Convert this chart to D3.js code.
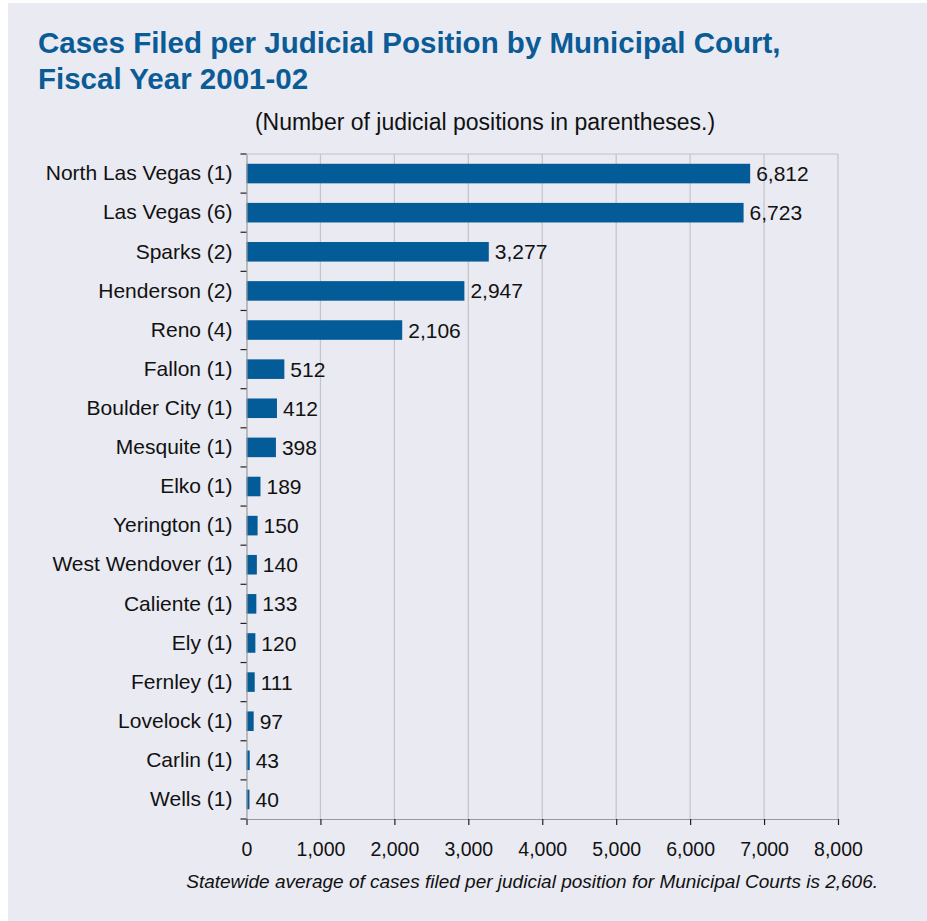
<!DOCTYPE html>
<html>

<head>
    <meta charset="utf-8">
    <script src="https://d3js.org/d3.v7.min.js"></script>
    <title>Cases Filed per Judicial Position by Municipal Court</title>
    <style>
        body { margin: 0; background: #fff; }
        #chart { font-family: "Liberation Sans", Arial, sans-serif; }
    </style>
</head>

<body>
    <div id="chart"></div>
</body>

<script>
    // data
    const courts = ["North Las Vegas (1)", "Las Vegas (6)", "Sparks (2)", "Henderson (2)", "Reno (4)",
        "Fallon (1)", "Boulder City (1)", "Mesquite (1)", "Elko (1)", "Yerington (1)", "West Wendover (1)",
        "Caliente (1)", "Ely (1)", "Fernley (1)", "Lovelock (1)", "Carlin (1)", "Wells (1)"];
    const casesPerPosition = [6812, 6723, 3277, 2947, 2106, 512, 412, 398, 189, 150, 140, 133, 120, 111, 97, 43, 40];
    const xTicks = [0, 1000, 2000, 3000, 4000, 5000, 6000, 7000, 8000];

    const width = 927, height = 921;
    const margin = { top: 154, right: 89, bottom: 102, left: 246.5 };
    const blue = "#035b97";
    const font = "'Liberation Sans', Arial, sans-serif";

    const svg = d3.select("#chart").append("svg")
        .attr("width", width)
        .attr("height", height);

    // panel background
    svg.append("rect")
        .attr("x", 8).attr("y", 3)
        .attr("width", width - 8).attr("height", height - 3)
        .attr("fill", "#e9eaf2");

    // titles
    const title = svg.append("text")
        .attr("x", 38)
        .attr("fill", "#0a5b96")
        .style("font-size", "29.5px")
        .style("font-weight", "bold");
    title.append("tspan").attr("x", 38).attr("y", 53).text("Cases Filed per Judicial Position by Municipal Court,");
    title.append("tspan").attr("x", 38).attr("y", 89).text("Fiscal Year 2001-02");

    svg.append("text")
        .attr("x", 485).attr("y", 130)
        .attr("text-anchor", "middle")
        .attr("fill", "#111")
        .style("font-size", "23px")
        .text("(Number of judicial positions in parentheses.)");

    const x = d3.scaleLinear()
        .domain([0, 8000])
        .range([margin.left, width - margin.right]);

    const y = d3.scaleBand()
        .domain(courts)
        .range([margin.top, height - margin.bottom])
        .paddingInner(0.5)
        .paddingOuter(0.25);

    const plotBottom = height - margin.bottom;

    // gridlines and frame
    svg.append("g")
        .selectAll("line")
        .data(xTicks.slice(1))
        .join("line")
        .attr("x1", d => x(d)).attr("x2", d => x(d))
        .attr("y1", margin.top).attr("y2", plotBottom)
        .attr("stroke", "#c4c4c6")
        .attr("stroke-width", 1.2);

    svg.append("line")
        .attr("x1", margin.left).attr("x2", x(8000))
        .attr("y1", margin.top).attr("y2", margin.top)
        .attr("stroke", "#c4c4c6")
        .attr("stroke-width", 1.2);

    // bars
    svg.append("g")
        .selectAll("rect")
        .data(courts)
        .join("rect")
        .attr("x", x(0))
        .attr("y", d => y(d))
        .attr("width", (d, i) => x(casesPerPosition[i]) - x(0))
        .attr("height", y.bandwidth())
        .attr("fill", blue);

    // value labels
    svg.append("g")
        .selectAll("text")
        .data(courts)
        .join("text")
        .attr("x", (d, i) => x(casesPerPosition[i]) + 6)
        .attr("y", d => y(d) + y.bandwidth() / 2)
        .attr("dy", "0.36em")
        .attr("fill", "#111")
        .style("font-size", "21px")
        .text((d, i) => d3.format(",")(casesPerPosition[i]));

    // x axis
    const xAxis = svg.append("g")
        .attr("transform", `translate(0,${plotBottom})`)
        .call(d3.axisBottom(x).tickValues(xTicks).tickFormat(d3.format(",")).tickSizeInner(6).tickSizeOuter(0).tickPadding(17));
    xAxis.select(".domain").attr("stroke", "#9a9a9c").attr("stroke-width", 1.2);
    xAxis.selectAll(".tick line").attr("stroke", "#222").attr("stroke-width", 1.2);
    xAxis.selectAll(".tick text")
        .attr("fill", "#111")
        .style("font-size", "19.5px")
        .style("font-family", font);

    // y axis: labels centred on bands, ticks on band boundaries
    const yAxis = svg.append("g")
        .attr("transform", `translate(${margin.left},0)`)
        .call(d3.axisLeft(y).tickSize(0).tickPadding(14));
    yAxis.select(".domain").attr("stroke", "#9a9a9c").attr("stroke-width", 1.2);
    yAxis.selectAll(".tick text")
        .attr("fill", "#111")
        .style("font-size", "21px")
        .style("font-family", font);

    const boundaries = d3.range(courts.length + 1).map(i => margin.top + i * (plotBottom - margin.top) / courts.length);
    svg.append("g")
        .selectAll("line")
        .data(boundaries)
        .join("line")
        .attr("x1", margin.left - 6).attr("x2", margin.left)
        .attr("y1", d => d).attr("y2", d => d)
        .attr("stroke", "#222")
        .attr("stroke-width", 1.2);

    // footnote
    svg.append("text")
        .attr("x", 878).attr("y", 888)
        .attr("text-anchor", "end")
        .attr("fill", "#111")
        .style("font-size", "19px")
        .style("font-style", "italic")
        .text("Statewide average of cases filed per judicial position for Municipal Courts is 2,606.");
</script>

</html>
